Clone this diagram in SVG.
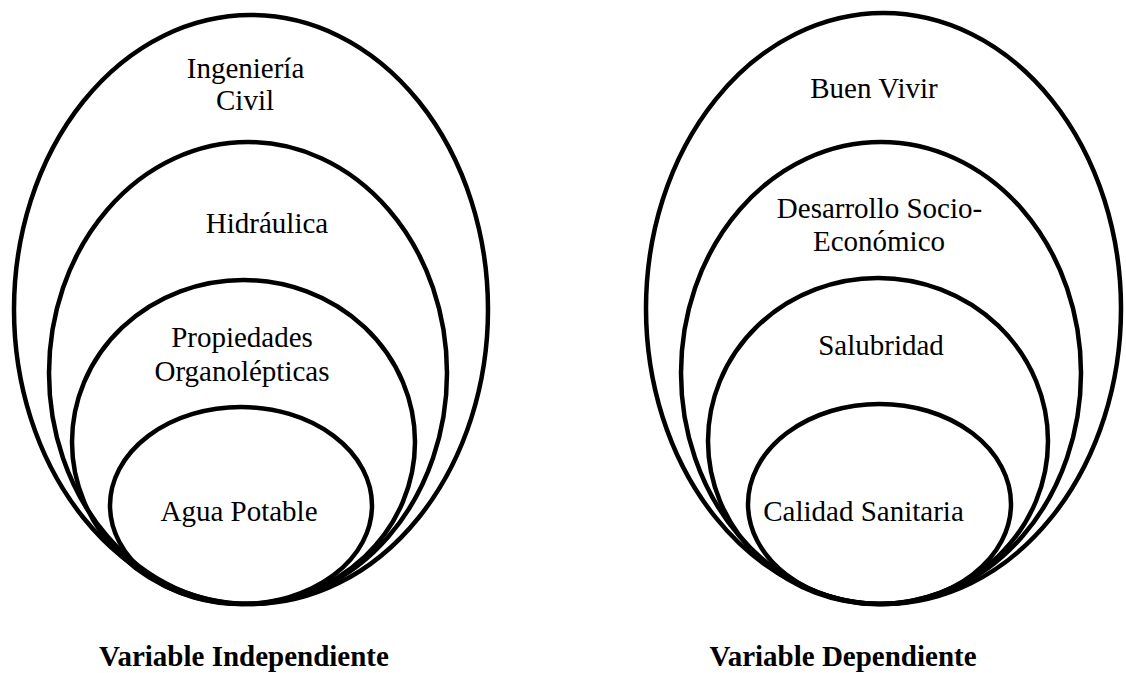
<svg xmlns="http://www.w3.org/2000/svg" width="1126" height="673" viewBox="0 0 1126 673">
<style>
.e{fill:none;stroke:#000;stroke-width:4.5}
.t{font-family:"Liberation Serif","Times New Roman",serif;font-size:29px;fill:#000;text-anchor:middle}
.c{font-family:"Liberation Serif","Times New Roman",serif;font-size:29px;font-weight:bold;fill:#000;text-anchor:middle}
</style>
<rect width="1126" height="673" fill="#fff"/>
<g id="left">
<g id="ingenieria-civil">
<ellipse class="e" cx="251" cy="309.5" rx="237" ry="294.5"/>
<text class="t" x="245.5" y="78">Ingeniería</text>
<text class="t" x="245" y="110">Civil</text>
</g>
<g id="hidraulica">
<ellipse class="e" cx="248" cy="373" rx="199" ry="231"/>
<text class="t" x="267" y="233">Hidráulica</text>
</g>
<g id="propiedades">
<ellipse class="e" cx="243.5" cy="442" rx="171.5" ry="162"/>
<text class="t" x="242" y="347">Propiedades</text>
<text class="t" x="242" y="381">Organolépticas</text>
</g>
<g id="agua-potable">
<ellipse class="e" cx="241" cy="505.5" rx="131" ry="98.5"/>
<text class="t" x="239" y="521">Agua Potable</text>
</g>
<text id="cap-left" class="c" x="244" y="666">Variable Independiente</text>
</g>
<g id="right">
<g id="buen-vivir">
<ellipse class="e" cx="883.5" cy="308.5" rx="237.5" ry="295.5"/>
<text class="t" x="874" y="98">Buen Vivir</text>
</g>
<g id="desarrollo">
<ellipse class="e" cx="881" cy="373" rx="200" ry="231"/>
<text class="t" x="879.5" y="218">Desarrollo Socio-</text>
<text class="t" x="879" y="251">Económico</text>
</g>
<g id="salubridad">
<ellipse class="e" cx="878" cy="441" rx="170" ry="163"/>
<text class="t" x="881" y="355">Salubridad</text>
</g>
<g id="calidad-sanitaria">
<ellipse class="e" cx="879.5" cy="504" rx="131.5" ry="100"/>
<text class="t" x="863.5" y="521">Calidad Sanitaria</text>
</g>
<text id="cap-right" class="c" x="843" y="666">Variable Dependiente</text>
</g>
<g id="connectors"/>
</svg>
